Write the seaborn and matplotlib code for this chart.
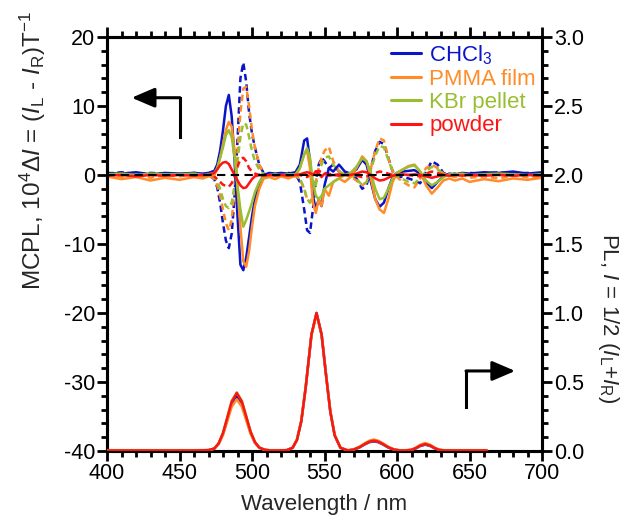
import numpy as np
import pandas as pd
import seaborn as sns
import matplotlib
matplotlib.use("Agg")
import matplotlib.pyplot as plt
from matplotlib.lines import Line2D
from matplotlib.ticker import MultipleLocator

# ---------------- data ----------------
wl_mcpl = [400, 410, 420, 430, 440, 450, 460, 466, 470, 474, 476, 478, 480, 482, 484, 486, 488, 490,
           492, 494, 496, 498, 500, 502, 505, 508, 512, 516, 520, 525, 530, 533, 536, 538, 540, 542,
           544, 546, 548, 550, 553, 556, 560, 564, 568, 572, 576, 579, 582, 585, 588, 591, 594, 597,
           600, 604, 608, 612, 616, 620, 624, 628, 632, 636, 640, 645, 650, 660, 670, 680, 690, 700]

blue_solid = [0.3, 0.2, 0.4, 0.1, 0.3, 0.2, 0.3, 0.2, 0.3, 0.6, 1.5, 3.5, 6.5, 10.0, 11.6, 8.5, 2.0, -6.0,
              -13.0, -13.8, -12.0, -9.0, -6.0, -3.5, -1.2, 0.0, 0.3, 0.2, 0.3, 0.2, 0.4, 1.5, 5.0, 5.3, 2.0, -3.0,
              -5.0, -3.5, -4.5, -1.5, 1.0, 0.5, 1.5, 0.5, 0.2, 0.8, 2.2, 1.5, -1.0, -3.5, -4.6, -4.0, -2.0, -0.3,
              0.3, 0.5, 0.6, 0.7, 0.2, -1.0, -1.9, -1.0, -0.2, 0.2, 0.1, 0.3, 0.2, 0.4, 0.3, 0.5, 0.2, 0.4]
blue_dash = [0.2, 0.4, 0.1, 0.3, 0.2, 0.0, 0.3, 0.1, 0.0, -0.6, -1.8, -4.0, -7.0, -9.5, -10.6, -8.5, -3.0, 5.0,
             14.0, 16.3, 13.5, 9.0, 6.0, 4.0, 1.5, 0.3, 0.1, 0.3, 0.2, 0.3, 0.1, -1.0, -5.0, -8.0, -8.4, -5.0,
             -1.0, 1.5, 2.5, 2.0, 1.0, 1.5, 0.5, 0.3, 0.0, -0.5, -2.0, -1.5, 1.0, 3.5, 4.8, 4.5, 2.5, 0.5,
             -0.2, -0.3, -0.5, -0.8, -1.2, 0.5, 2.0, 1.5, 0.3, 0.0, 0.2, 0.1, 0.3, 0.2, 0.4, 0.2, 0.3, 0.2]
orange_solid = [-0.2, -0.6, -0.3, -0.8, -0.4, -0.7, -0.3, -0.5, -0.2, 0.0, 0.8, 2.5, 4.5, 6.5, 7.7, 7.0, 3.5, -2.0,
                -7.5, -12.5, -13.3, -11.0, -7.5, -4.5, -2.0, -0.5, -0.3, -0.6, -0.2, -0.5, -0.1, 1.0, 3.0, 3.5, 1.0, -4.0,
                -5.5, -3.5, -4.5, -2.0, -3.0, -1.0, -0.5, -1.0, -0.3, 1.0, 2.7, 2.0, -0.5, -3.5, -5.0, -5.5, -3.5, -1.0,
                0.3, 0.8, 1.3, 1.5, 0.5, -1.5, -2.7, -1.8, -0.8, -0.5, -0.8, -0.5, -1.0, -0.6, -0.9, -0.5, -0.7, -0.4]
orange_dash = [0.1, -0.3, 0.2, -0.4, 0.0, -0.2, 0.1, -0.3, -0.1, -0.5, -1.5, -3.0, -5.0, -7.0, -8.0, -6.5, -2.0, 3.5,
               9.0, 12.5, 12.8, 10.0, 6.5, 4.0, 1.5, 0.3, -0.2, 0.1, -0.3, 0.0, -0.2, -0.5, -2.0, -3.5, -4.0, -3.0,
               -1.0, 1.0, 2.5, 3.5, 4.1, 2.0, 0.5, 0.0, -0.2, -0.8, -1.5, -1.0, 1.0, 3.5, 5.3, 5.0, 2.5, 0.5,
               -0.3, -1.0, -1.5, -1.8, -0.5, 1.0, 1.5, 1.0, 0.2, 0.0, -0.3, 0.1, -0.4, -0.2, -0.5, -0.1, -0.3, -0.2]
green_solid = [0.1, 0.2, 0.0, 0.2, 0.1, 0.1, 0.2, 0.0, 0.1, 0.3, 1.0, 2.5, 4.0, 5.8, 6.5, 5.5, 2.5, -1.5,
               -5.0, -7.5, -6.5, -5.3, -4.0, -2.5, -1.0, -0.2, 0.0, 0.1, 0.0, 0.1, 0.1, 1.0, 3.0, 3.9, 2.5, -1.0,
               -3.0, -3.5, -3.0, -2.0, -1.5, -1.0, -0.5, 0.0, 0.3, 1.2, 2.4, 2.0, 0.3, -2.0, -3.5, -3.3, -2.0, -0.5,
               0.3, 0.8, 1.2, 1.4, 0.5, -0.8, -1.5, -1.0, -0.3, 0.1, 0.1, 0.2, 0.0, 0.1, 0.2, 0.1, 0.0, 0.1]
green_dash = [0.0, 0.1, -0.1, 0.1, 0.0, 0.1, 0.0, -0.1, 0.0, -0.3, -0.8, -2.0, -3.5, -4.5, -4.8, -4.0, -1.5, 2.0,
              5.5, 7.5, 7.3, 5.5, 3.5, 2.0, 0.8, 0.1, 0.0, 0.1, 0.0, 0.1, 0.0, -0.5, -2.0, -3.5, -4.0, -3.0,
              -1.5, 0.5, 1.5, 2.5, 2.7, 1.5, 0.5, 0.1, 0.0, -0.5, -1.5, -1.0, 0.8, 2.8, 4.2, 4.0, 2.2, 0.5,
              -0.2, -0.6, -1.0, -1.2, -0.5, 0.5, 1.2, 0.8, 0.2, 0.0, 0.1, 0.0, 0.1, 0.0, 0.1, 0.0, 0.1, 0.0]
red_solid = [-0.1, 0.0, -0.2, 0.0, -0.1, 0.0, -0.1, 0.0, 0.0, 0.3, 0.8, 1.4, 1.8, 1.9, 1.6, 0.8, 0.0, -0.8,
             -1.5, -1.9, -1.8, -1.2, -0.6, -0.2, 0.0, -0.1, 0.0, -0.1, 0.0, -0.1, 0.0, 0.1, 0.3, 0.4, 0.3, 0.0,
             0.5, 0.2, -0.3, 0.2, -0.1, 0.0, -0.1, 0.0, 0.0, 0.2, 0.5, 0.4, 0.0, -0.5, -0.8, -0.7, -0.4, -0.1,
             0.0, 0.1, 0.0, 0.1, 0.0, -0.2, -0.4, -0.2, 0.0, -0.1, 0.0, -0.1, 0.0, -0.1, 0.0, -0.1, 0.0, -0.1]
red_dash = [0.0, 0.1, 0.0, 0.1, 0.0, 0.0, 0.1, 0.0, 0.0, -0.2, -0.6, -1.0, -1.4, -1.6, -1.7, -1.2, -0.2, 1.2,
            2.3, 2.5, 2.0, 1.0, 0.5, 0.2, 0.0, 0.1, 0.0, 0.1, 0.0, 0.1, 0.0, 0.0, -0.2, -0.3, 0.0, 0.3,
            0.5, 0.6, 0.4, 0.3, 0.2, 0.0, 0.1, 0.0, 0.0, -0.1, -0.3, -0.2, 0.1, 0.3, 0.5, 0.4, 0.2, 0.0,
            0.0, 0.0, 0.0, -0.1, -0.2, 0.2, 0.5, 0.3, 0.0, 0.0, 0.0, 0.1, 0.0, 0.0, 0.1, 0.0, 0.0, 0.0]

wl_pl = [400, 430, 460, 470, 474, 477, 480, 483, 486, 489.5, 493, 496, 499, 502, 505, 509, 513,
         518, 524, 528, 531, 534, 537, 541, 544.5, 548, 551, 554, 557, 561, 566,
         570, 574, 578, 581, 584, 587, 590, 594, 598, 602,
         606, 610, 613, 616, 619.5, 623, 626, 629, 633, 640, 650, 662]
blue_pl = [0.004, 0.004, 0.004, 0.006, 0.017, 0.052, 0.124, 0.231, 0.341, 0.40, 0.341, 0.238, 0.133, 0.062, 0.024, 0.008, 0.004,
           0.004, 0.006, 0.023, 0.08, 0.216, 0.458, 0.843, 1.0, 0.843, 0.556, 0.286, 0.114, 0.023, 0.004,
           0.009, 0.025, 0.049, 0.064, 0.070, 0.064, 0.049, 0.025, 0.009, 0.004,
           0.004, 0.007, 0.019, 0.036, 0.046, 0.036, 0.019, 0.007, 0.004, 0.004, 0.004, 0.004]
orange_pl = [0.006, 0.006, 0.006, 0.007, 0.016, 0.049, 0.116, 0.217, 0.32, 0.375, 0.32, 0.223, 0.125, 0.058, 0.022, 0.008, 0.006,
             0.006, 0.006, 0.025, 0.085, 0.222, 0.46, 0.84, 0.99, 0.845, 0.56, 0.29, 0.118, 0.025, 0.006,
             0.012, 0.031, 0.058, 0.075, 0.083, 0.075, 0.058, 0.031, 0.012, 0.006,
             0.006, 0.010, 0.025, 0.045, 0.058, 0.045, 0.025, 0.010, 0.006, 0.006, 0.006, 0.006]
green_pl = [0.004, 0.004, 0.004, 0.006, 0.018, 0.056, 0.132, 0.246, 0.362, 0.425, 0.362, 0.253, 0.142, 0.066, 0.025, 0.008, 0.004,
            0.004, 0.006, 0.023, 0.08, 0.216, 0.458, 0.843, 1.0, 0.843, 0.556, 0.286, 0.114, 0.023, 0.004,
            0.010, 0.027, 0.052, 0.068, 0.075, 0.068, 0.052, 0.027, 0.010, 0.004,
            0.004, 0.008, 0.021, 0.039, 0.050, 0.039, 0.021, 0.008, 0.004, 0.004, 0.004, 0.004]
red_pl = [0.004, 0.004, 0.004, 0.006, 0.018, 0.055, 0.13, 0.243, 0.358, 0.42, 0.358, 0.25, 0.14, 0.065, 0.025, 0.008, 0.004,
          0.004, 0.006, 0.023, 0.08, 0.216, 0.458, 0.843, 1.0, 0.843, 0.556, 0.286, 0.114, 0.023, 0.004,
          0.010, 0.027, 0.052, 0.068, 0.075, 0.068, 0.052, 0.027, 0.010, 0.004,
          0.004, 0.008, 0.021, 0.039, 0.050, 0.039, 0.021, 0.008, 0.004, 0.004, 0.004, 0.004]

labels = ["CHCl$_3$", "PMMA film", "KBr pellet", "powder"]
colors = ["#0A14C8", "#FF8C28", "#99BE32", "#FF1414"]

x_ticks = [400, 450, 500, 550, 600, 650, 700]
left_ticks = [-40, -30, -20, -10, 0, 10, 20]
right_ticks = [0.0, 0.5, 1.0, 1.5, 2.0, 2.5, 3.0]

# ---------------- style ----------------
sns.set_theme(style="ticks")
plt.rcParams["font.family"] = ["Liberation Sans", "DejaVu Sans"]
plt.rcParams["mathtext.fontset"] = "custom"
plt.rcParams["mathtext.rm"] = "Liberation Sans"
plt.rcParams["mathtext.it"] = "Liberation Sans:italic"
plt.rcParams["mathtext.bf"] = "Liberation Sans:bold"
plt.rcParams["axes.unicode_minus"] = False

FS = 15.5
W, H = 628, 516
fig = plt.figure(figsize=(W / 100, H / 100), dpi=100)
ax = fig.add_axes([107 / W, 1 - 451 / H, (542 - 107) / W, (451 - 37) / H])
ax2 = ax.twinx()

LW = 1.8


def draw(axis, x, y, color, ls="-", lw=LW, z=2):
    df = pd.DataFrame({"x": x, "y": y})
    sns.lineplot(data=df, x="x", y="y", ax=axis, color=color, linestyle=ls,
                 linewidth=lw, estimator=None, sort=False, legend=False, zorder=z)


mcpl_solid = [blue_solid, orange_solid, green_solid, red_solid]
mcpl_dash = [blue_dash, orange_dash, green_dash, red_dash]
pl_series = [blue_pl, orange_pl, green_pl, red_pl]

for ys, c in zip(mcpl_dash, colors):
    draw(ax, wl_mcpl, ys, c, ls=(0, (2.6, 1.6)), z=2)
for ys, c in zip(mcpl_solid, colors):
    draw(ax, wl_mcpl, ys, c, z=3)
ax.axhline(0, color="black", lw=1.5, ls=(0, (4, 2.6)), zorder=4)

for ys, c in zip(pl_series, colors):
    draw(ax2, wl_pl, ys, c, z=3)

# axes limits / ticks
ax.set_xlim(400, 700)
ax.set_ylim(-40, 20)
ax2.set_ylim(0, 3)
ax.set_xticks(x_ticks)
ax.set_yticks(left_ticks)
ax2.set_yticks(right_ticks)
ax2.set_yticklabels([f"{v:.1f}" for v in right_ticks])
ax.xaxis.set_minor_locator(MultipleLocator(10))
ax.yaxis.set_minor_locator(MultipleLocator(2))
ax2.yaxis.set_minor_locator(MultipleLocator(0.1))
ax.set_xlabel("")
ax.set_ylabel("")
ax2.set_ylabel("")

for a in (ax, ax2):
    for s in a.spines.values():
        s.set_linewidth(2.2)
        s.set_color("black")
    a.tick_params(which="major", direction="out", length=7, width=2.0, labelsize=FS,
                  pad=1.5, color="black", labelcolor="black")
    a.tick_params(which="minor", direction="out", length=4, width=2.0, color="black")
ax.tick_params(axis="x", which="both", top=True, bottom=True)
ax.tick_params(axis="y", which="both", left=True, right=False)
ax2.tick_params(axis="y", which="both", right=True, left=False)
ax.grid(False)
ax2.grid(False)

# arrows
ax.plot([450.3, 450.3], [5.5, 11.2], color="black", lw=2.2, solid_capstyle="projecting", zorder=5)
ax.annotate("", xy=(417, 11.2), xytext=(450.3, 11.2),
            arrowprops=dict(arrowstyle="-|>,head_length=0.7,head_width=0.3", color="black",
                            lw=2.2, shrinkA=0, shrinkB=0, mutation_scale=20), zorder=5)
ax.plot([647.6, 647.6], [-33.6, -28.4], color="black", lw=2.2, solid_capstyle="projecting", zorder=5)
ax.annotate("", xy=(681.5, -28.4), xytext=(647.6, -28.4),
            arrowprops=dict(arrowstyle="-|>,head_length=0.7,head_width=0.3", color="black",
                            lw=2.2, shrinkA=0, shrinkB=0, mutation_scale=20), zorder=5)

# legend
handles = [Line2D([0], [0], color=c, lw=LW + 0.4) for c in colors]
leg = ax.legend(handles, labels, loc="upper left", bbox_to_anchor=(0.652, 0.985),
                frameon=False, fontsize=16, handlelength=1.35, handletextpad=0.38,
                labelspacing=0.1, borderaxespad=0, borderpad=0)
for t, c in zip(leg.get_texts(), colors):
    t.set_color(c)

# axis labels
fig.text(324.5 / W, 1 - 510 / H, "Wavelength / nm", ha="center", va="baseline", fontsize=16)
fig.text(33 / W, 1 - 290 / H,
         "MCPL, 10$^4$Δ$I$ = ($I$$_{\\rm L}$ - $I$$_{\\rm R}$)T$^{-1}$",
         rotation=90, ha="center", va="bottom", fontsize=17.5)
fig.text(608 / W, 1 - 318 / H,
         "PL, $I$ = 1/2 ($I$$_{\\rm L}$+$I$$_{\\rm R}$)",
         rotation=270, ha="center", va="center", fontsize=16)

fig.savefig("out.png", dpi=100)
